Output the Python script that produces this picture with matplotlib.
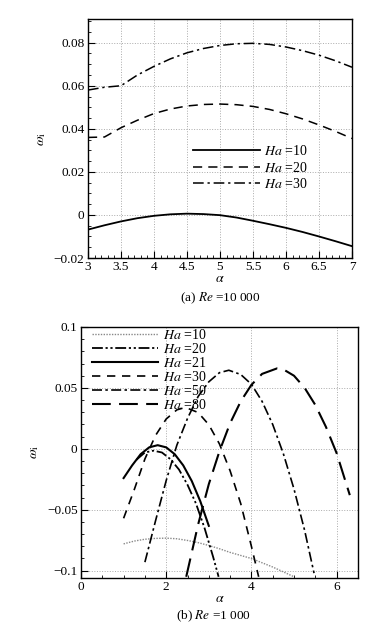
import numpy as np
import matplotlib
matplotlib.use('Agg')
import matplotlib.pyplot as plt
from matplotlib.ticker import MultipleLocator, FuncFormatter

plt.rcParams['font.family'] = ['Liberation Serif', 'DejaVu Serif']
plt.rcParams['mathtext.fontset'] = 'stix'
plt.rcParams['font.size'] = 9

# (a) Re = 10 000
alpha_a = [3.0, 3.25, 3.5, 3.75, 4.0, 4.25, 4.5, 4.75, 5.0, 5.25, 5.5, 5.75, 6.0, 6.25, 6.5, 6.75, 7.0]
ha10_a = [-0.0068, -0.0048, -0.0030, -0.0015, -0.0004, 0.0003, 0.0006, 0.0004, -0.0001, -0.0012,
          -0.0027, -0.0043, -0.0060, -0.0079, -0.0100, -0.0122, -0.0145]
ha20_a = [0.0360, 0.0362, 0.0405, 0.0440, 0.0471, 0.0492, 0.0506, 0.0513, 0.0515, 0.0512,
          0.0504, 0.0490, 0.0470, 0.0446, 0.0418, 0.0388, 0.0355]
ha30_a = [0.0580, 0.0593, 0.0600, 0.0650, 0.0690, 0.0725, 0.0753, 0.0773, 0.0787, 0.0795,
          0.0797, 0.0792, 0.0780, 0.0763, 0.0742, 0.0716, 0.0686]

# (b) Re = 1 000
alpha_b10 = [1.0, 1.25, 1.5, 1.75, 2.0, 2.25, 2.5, 2.75, 3.0, 3.25, 3.5, 3.75, 4.0, 4.25, 4.5, 4.75, 5.0]
ha10_b = [-0.078, -0.0757, -0.0742, -0.0735, -0.0733, -0.0738, -0.0752, -0.0770, -0.0793, -0.082,
          -0.085, -0.0875, -0.090, -0.0935, -0.097, -0.101, -0.105]
alpha_b20 = [1.3, 1.5, 1.7, 1.9, 2.1, 2.3, 2.5, 2.7, 2.9, 3.1, 3.23]
ha20_b = [-0.009, -0.003, -0.0015, -0.003, -0.0085, -0.017, -0.0295, -0.045, -0.065, -0.0885, -0.105]
alpha_b21 = [1.0, 1.2, 1.4, 1.6, 1.8, 2.0, 2.2, 2.4, 2.6, 2.8, 3.0]
ha21_b = [-0.024, -0.0136, -0.0044, 0.0012, 0.003, 0.0012, -0.0044, -0.0136, -0.0264, -0.043, -0.0632]
alpha_b30 = [1.0, 1.25, 1.5, 1.75, 2.0, 2.25, 2.45, 2.75, 3.0, 3.25, 3.5, 3.75, 4.0, 4.17]
ha30_b = [-0.057, -0.0335, -0.0083, 0.011, 0.0245, 0.032, 0.034, 0.0298, 0.0198, 0.004, -0.018,
          -0.045, -0.080, -0.105]
alpha_b50 = [1.5, 1.75, 2.0, 2.25, 2.5, 2.75, 3.0, 3.25, 3.47, 3.75, 4.0, 4.25, 4.5, 4.75, 5.0, 5.25, 5.47]
ha50_b = [-0.093, -0.059, -0.026, 0.003, 0.025, 0.043, 0.055, 0.0625, 0.0645, 0.061, 0.053, 0.039,
          0.020, -0.004, -0.033, -0.067, -0.102]
alpha_b80 = [2.47, 2.75, 3.0, 3.25, 3.5, 3.75, 4.0, 4.25, 4.6, 4.75, 5.0, 5.25, 5.5, 5.75, 6.0, 6.31]
ha80_b = [-0.105, -0.062, -0.029, -0.002, 0.021, 0.039, 0.0525, 0.0615, 0.066, 0.0652, 0.060, 0.050,
          0.036, 0.018, -0.0035, -0.038]


def fmt(v, pos):
    s = f'{v:g}'
    if s in ('-0', '0'):
        return '0'
    return s.replace('-', '\u2212')


def style_axes(ax, xmaj, xmin, ymaj, ymin):
    ax.xaxis.set_major_locator(MultipleLocator(xmaj))
    ax.xaxis.set_minor_locator(MultipleLocator(xmin))
    ax.yaxis.set_major_locator(MultipleLocator(ymaj))
    ax.yaxis.set_minor_locator(MultipleLocator(ymin))
    ax.xaxis.set_major_formatter(FuncFormatter(fmt))
    ax.yaxis.set_major_formatter(FuncFormatter(fmt))
    ax.tick_params(which='both', direction='in', top=False, right=False, labelsize=9.5)
    ax.tick_params(which='major', length=5, width=0.8, pad=2.5)
    ax.tick_params(which='minor', length=2.5, width=0.6)
    ax.grid(True, which='major', linestyle=':', color='#aaaaaa', linewidth=0.7)
    for sp in ax.spines.values():
        sp.set_linewidth(1.0)
    ax.set_xlabel(r'$\alpha$', fontsize=10, labelpad=-1)
    ax.set_ylabel(r'$\omega_{\rm i}$', fontsize=10, labelpad=4)


fig = plt.figure(figsize=(3.9, 6.31), dpi=100)

# top panel
ax1 = fig.add_axes([0.2256, 0.5911, 0.677, 0.3788])
ax1.plot(alpha_a, ha10_a, color='black', lw=1.3, ls='-', label=r'$Ha$ =10')
ax1.plot(alpha_a, ha20_a, color='black', lw=1.1, ls=(0, (6, 4)), label=r'$Ha$ =20')
ax1.plot(alpha_a, ha30_a, color='black', lw=1.1, ls=(0, (7, 2.5, 1.5, 2.5)), label=r'$Ha$ =30')
ax1.set_xlim(3, 7)
ax1.set_ylim(-0.02, 0.091)
style_axes(ax1, 0.5, 0.1, 0.02, 0.005)
ax1.legend(loc='upper left', bbox_to_anchor=(0.398, 0.478), frameon=False, borderpad=0,
           borderaxespad=0, handlelength=4.8, handletextpad=0.3, labelspacing=0.2, fontsize=10)
fig.text(0.565, 0.527, r'(a) $Re$ =10 000', ha='center', va='center', fontsize=9.5)

# bottom panel
ax2 = fig.add_axes([0.2077, 0.084, 0.710, 0.3978])
ax2.plot(alpha_b10, ha10_b, color='#888888', lw=1.0, ls=(0, (1, 1)), label=r'$Ha$ =10')
ax2.plot(alpha_b20, ha20_b, color='black', lw=1.3, ls=(0, (6, 1.5, 1.2, 1.5, 1.2, 1.5)), label=r'$Ha$ =20')
ax2.plot(alpha_b21, ha21_b, color='black', lw=1.5, ls='-', label=r'$Ha$ =21')
ax2.plot(alpha_b30, ha30_b, color='black', lw=1.2, ls=(0, (5, 4)), label=r'$Ha$ =30')
ax2.plot(alpha_b50, ha50_b, color='black', lw=1.2, ls=(0, (6, 2, 1.5, 2)), label=r'$Ha$ =50')
ax2.plot(alpha_b80, ha80_b, color='black', lw=1.5, ls=(0, (9, 4)), label=r'$Ha$ =80')
ax2.set_xlim(0, 6.5)
ax2.set_ylim(-0.106, 0.1)
style_axes(ax2, 2, 0.5, 0.05, 0.01)
ax2.legend(loc='upper left', bbox_to_anchor=(0.039, 0.995), frameon=False, borderpad=0,
           borderaxespad=0, handlelength=4.8, handletextpad=0.3, labelspacing=0.0, fontsize=10)
fig.text(0.546, 0.024, r'(b) $Re$ =1 000', ha='center', va='center', fontsize=9.5)

fig.savefig('out.png', dpi=100)
